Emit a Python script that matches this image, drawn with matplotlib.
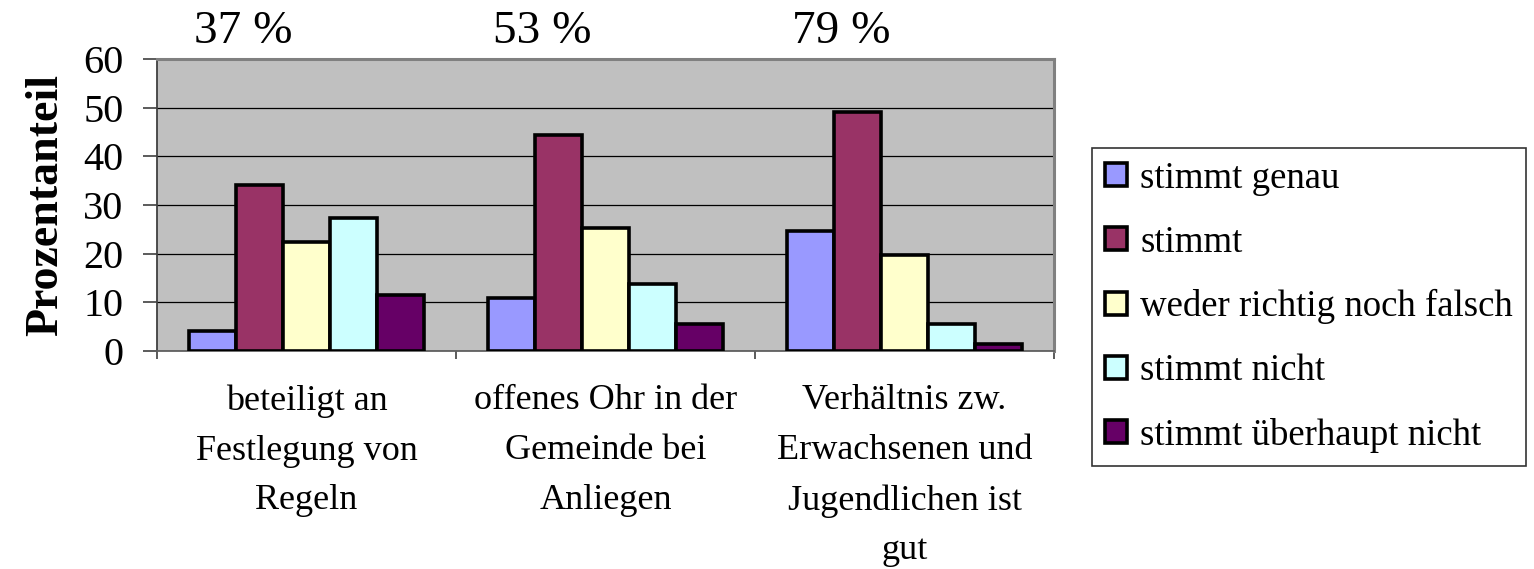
import matplotlib
matplotlib.use("Agg")
import matplotlib.pyplot as plt
import numpy as np

categories = ["beteiligt an\nFestlegung von\nRegeln",
              "offenes Ohr in der\nGemeinde bei\nAnliegen",
              "Verhältnis zw.\nErwachsenen und\nJugendlichen ist\ngut"]
series_names = ["stimmt genau", "stimmt", "weder richtig noch falsch",
                "stimmt nicht", "stimmt überhaupt nicht"]
stimmt_genau = [4.1, 10.9, 24.6]
stimmt = [34.2, 44.4, 49.2]
weder = [22.5, 25.2, 19.8]
stimmt_nicht = [27.3, 13.7, 5.6]
ueberhaupt_nicht = [11.5, 5.6, 1.4]
top_labels = ["37 %", "53 %", "79 %"]
yticks = [0, 10, 20, 30, 40, 50, 60]

series = [stimmt_genau, stimmt, weder, stimmt_nicht, ueberhaupt_nicht]
colors = ["#9999FF", "#993366", "#FFFFCC", "#CCFFFF", "#660066"]

plt.rcParams['font.family'] = ['Liberation Serif', 'DejaVu Serif']

fig = plt.figure(figsize=(15.34, 5.69), dpi=100)
ax = fig.add_axes([157/1534, 1-351/569, (1054-157)/1534, (351-59)/569])
ax.set_facecolor("#C0C0C0")

x = np.arange(len(categories))
w = 0.157
for k, (vals, col, name) in enumerate(zip(series, colors, series_names)):
    ax.bar(x + (k-2)*w, vals, width=w, color=col, edgecolor="black",
           linewidth=2.6, label=name, zorder=3)

ax.set_xlim(-0.5, 2.5)
ax.set_ylim(0, 60)
ax.set_yticks(yticks)
ax.set_yticklabels([str(v) for v in yticks], fontsize=29)
ax.tick_params(axis='y', direction='out', length=10, width=1.2, color='#404040', pad=14)
ax.yaxis.grid(True, color='black', linewidth=0.9, zorder=1)
ax.set_axisbelow(True)

ax.set_xticks([-0.5, 0.5, 1.5, 2.5])
ax.set_xticklabels([])
ax.tick_params(axis='x', which='major', direction='out', length=6, width=1.2, color='#404040')
ax.set_xticks(x, minor=True)
ax.set_xticklabels(categories, minor=True, fontsize=26, linespacing=1.67)
ax.tick_params(axis='x', which='minor', length=0, pad=24)

for s in ['top', 'right']:
    ax.spines[s].set_color('#808080')
    ax.spines[s].set_linewidth(2.2)
ax.spines['left'].set_color('#404040')
ax.spines['left'].set_linewidth(1.3)
ax.spines['bottom'].set_color('#606060')
ax.spines['bottom'].set_linewidth(1.3)

ax.set_ylabel("Prozentanteil", fontsize=33, fontweight='bold', labelpad=12)

for i, t in enumerate(top_labels):
    ax.text(x[i] - 0.21, 61.3, t, ha='center', va='bottom', fontsize=34)

leg = fig.legend(loc='upper left', bbox_to_anchor=(1092/1534, 1-148/569),
                 fontsize=26.5, frameon=True, fancybox=False,
                 handlelength=0.6, handleheight=0.6, handletextpad=0.35,
                 labelspacing=0.8, borderpad=0.36, borderaxespad=0)
leg.get_frame().set_edgecolor('black')
leg.get_frame().set_linewidth(1.2)

fig.savefig("out.png", dpi=100)
